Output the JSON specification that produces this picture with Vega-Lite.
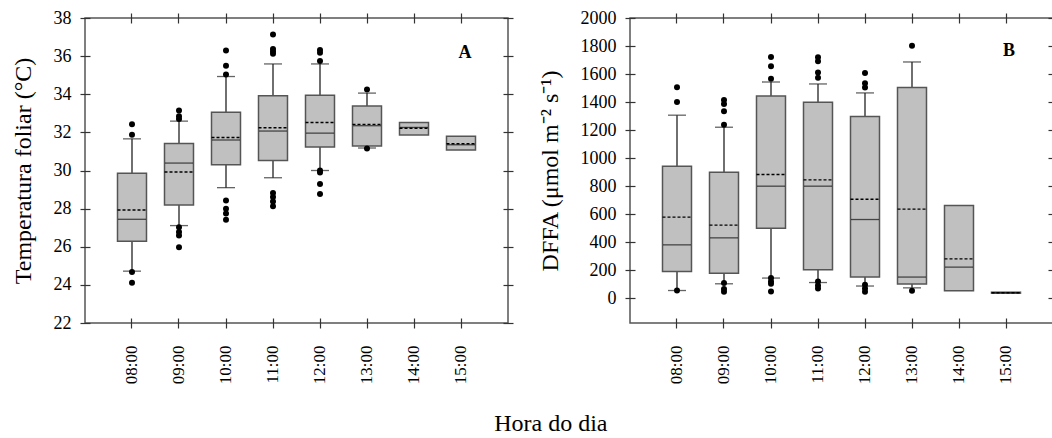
{
  "$schema": "https://vega.github.io/schema/vega-lite/v6.json",
  "padding": {"left": 10, "top": 8, "right": 0, "bottom": 0},
  "spacing": 22,
  "title": {"text": "Hora do dia", "orient": "bottom", "anchor": "middle", "font": "Liberation Serif", "fontSize": 24, "fontWeight": "normal", "color": "#000", "offset": 28, "dx": 16},
  "datasets": {
    "boxA": [
      {"hora": "08:00", "q1": 26.29, "q3": 29.85, "med": 27.44, "mean": 27.93, "lo": 24.72, "hi": 31.66},
      {"hora": "09:00", "q1": 28.19, "q3": 31.42, "med": 30.39, "mean": 29.92, "lo": 27.11, "hi": 32.59},
      {"hora": "10:00", "q1": 30.30, "q3": 33.06, "med": 31.60, "mean": 31.73, "lo": 29.10, "hi": 34.93},
      {"hora": "11:00", "q1": 30.53, "q3": 33.92, "med": 32.07, "mean": 32.24, "lo": 29.62, "hi": 35.59},
      {"hora": "12:00", "q1": 31.23, "q3": 33.95, "med": 31.96, "mean": 32.52, "lo": 30.00, "hi": 35.59},
      {"hora": "13:00", "q1": 31.28, "q3": 33.38, "med": 32.35, "mean": 32.42, "lo": 31.18, "hi": 34.06},
      {"hora": "14:00", "q1": 31.86, "q3": 32.52, "med": 32.26, "mean": 32.22, "lo": null, "hi": null},
      {"hora": "15:00", "q1": 31.07, "q3": 31.80, "med": 31.35, "mean": 31.40, "lo": null, "hi": null}
    ],
    "outA": [
      {"hora": "08:00", "v": 32.43}, {"hora": "08:00", "v": 31.87}, {"hora": "08:00", "v": 24.67}, {"hora": "08:00", "v": 24.11},
      {"hora": "09:00", "v": 33.15}, {"hora": "09:00", "v": 32.85}, {"hora": "09:00", "v": 32.70}, {"hora": "09:00", "v": 27.02}, {"hora": "09:00", "v": 26.78}, {"hora": "09:00", "v": 26.59}, {"hora": "09:00", "v": 25.97},
      {"hora": "10:00", "v": 36.29}, {"hora": "10:00", "v": 35.50}, {"hora": "10:00", "v": 35.03}, {"hora": "10:00", "v": 28.42}, {"hora": "10:00", "v": 28.00}, {"hora": "10:00", "v": 27.75}, {"hora": "10:00", "v": 27.41},
      {"hora": "11:00", "v": 37.13}, {"hora": "11:00", "v": 36.38}, {"hora": "11:00", "v": 36.24}, {"hora": "11:00", "v": 36.12}, {"hora": "11:00", "v": 28.82}, {"hora": "11:00", "v": 28.61}, {"hora": "11:00", "v": 28.37}, {"hora": "11:00", "v": 28.12},
      {"hora": "12:00", "v": 36.32}, {"hora": "12:00", "v": 36.18}, {"hora": "12:00", "v": 35.75}, {"hora": "12:00", "v": 30.00}, {"hora": "12:00", "v": 29.90}, {"hora": "12:00", "v": 29.29}, {"hora": "12:00", "v": 28.77},
      {"hora": "13:00", "v": 34.25}, {"hora": "13:00", "v": 31.16}
    ],
    "boxB": [
      {"hora": "08:00", "q1": 190, "q3": 942, "med": 380, "mean": 578, "lo": 54, "hi": 1306},
      {"hora": "09:00", "q1": 178, "q3": 899, "med": 430, "mean": 521, "lo": 102, "hi": 1220},
      {"hora": "10:00", "q1": 499, "q3": 1443, "med": 799, "mean": 882, "lo": 143, "hi": 1543},
      {"hora": "11:00", "q1": 202, "q3": 1398, "med": 799, "mean": 844, "lo": 111, "hi": 1529},
      {"hora": "12:00", "q1": 150, "q3": 1296, "med": 561, "mean": 706, "lo": 86, "hi": 1465},
      {"hora": "13:00", "q1": 100, "q3": 1503, "med": 150, "mean": 635, "lo": 73, "hi": 1686},
      {"hora": "14:00", "q1": 52, "q3": 661, "med": 221, "mean": 280, "lo": null, "hi": null},
      {"hora": "15:00", "q1": 35, "q3": 42, "med": 38, "mean": 38, "lo": null, "hi": null}
    ],
    "outB": [
      {"hora": "08:00", "v": 1505}, {"hora": "08:00", "v": 1401}, {"hora": "08:00", "v": 54},
      {"hora": "09:00", "v": 1415}, {"hora": "09:00", "v": 1386}, {"hora": "09:00", "v": 1334}, {"hora": "09:00", "v": 1237}, {"hora": "09:00", "v": 107}, {"hora": "09:00", "v": 64}, {"hora": "09:00", "v": 45},
      {"hora": "10:00", "v": 1722}, {"hora": "10:00", "v": 1655}, {"hora": "10:00", "v": 1567}, {"hora": "10:00", "v": 143}, {"hora": "10:00", "v": 119}, {"hora": "10:00", "v": 102}, {"hora": "10:00", "v": 47},
      {"hora": "11:00", "v": 1719}, {"hora": "11:00", "v": 1691}, {"hora": "11:00", "v": 1610}, {"hora": "11:00", "v": 1574}, {"hora": "11:00", "v": 119}, {"hora": "11:00", "v": 90}, {"hora": "11:00", "v": 69},
      {"hora": "12:00", "v": 1608}, {"hora": "12:00", "v": 1534}, {"hora": "12:00", "v": 1503}, {"hora": "12:00", "v": 95}, {"hora": "12:00", "v": 69}, {"hora": "12:00", "v": 45},
      {"hora": "13:00", "v": 1802}, {"hora": "13:00", "v": 52}
    ]
  },
  "hconcat": [
    {
      "width": 423, "height": 305,
      "resolve": {"axis": {"x": "independent", "y": "independent"}},
      "layer": [
        {"data": {"name": "boxA"}, "mark": {"type": "rule", "color": "#222", "strokeWidth": 1.3},
         "encoding": {
           "x": {"field": "hora", "type": "nominal", "scale": {"type": "band", "domain": ["08:00","09:00","10:00","11:00","12:00","13:00","14:00","15:00"], "paddingInner": 0.383, "paddingOuter": 0.6915},
                 "axis": {"orient": "bottom", "title": null, "labelAngle": -90, "labelPadding": 17, "labelFont": "Liberation Serif", "labelFontSize": 17, "tickSize": 10, "offset": -5, "domain": false}},
           "y": {"field": "lo", "type": "quantitative", "scale": {"domain": [22, 38], "nice": false, "zero": false},
                 "axis": {"orient": "left", "values": [22,24,26,28,30,32,34,36,38], "format": "d", "title": "Temperatura foliar (°C)", "labelFont": "Liberation Serif", "labelFontSize": 18, "titleFont": "Liberation Serif", "labelPadding": 9, "titlePadding": 18, "tickSize": 10, "offset": -5, "domain": false}},
           "y2": {"field": "hi"}}},
        {"data": {"name": "boxA"}, "mark": {"type": "tick", "color": "#222", "size": 18, "thickness": 1.3},
         "encoding": {"x": {"field": "hora", "type": "nominal", "axis": null}, "y": {"field": "lo", "type": "quantitative", "axis": null}}},
        {"data": {"name": "boxA"}, "mark": {"type": "tick", "color": "#222", "size": 18, "thickness": 1.3},
         "encoding": {"x": {"field": "hora", "type": "nominal", "axis": null}, "y": {"field": "hi", "type": "quantitative", "axis": null}}},
        {"data": {"name": "boxA"}, "mark": {"type": "bar", "fill": "#c0c0c0", "stroke": "#555", "strokeWidth": 1.5},
         "encoding": {"x": {"field": "hora", "type": "nominal", "axis": null}, "y": {"field": "q1", "type": "quantitative", "axis": null}, "y2": {"field": "q3"}}},
        {"data": {"name": "boxA"}, "mark": {"type": "tick", "color": "#111", "size": 28, "thickness": 1.3},
         "encoding": {"x": {"field": "hora", "type": "nominal", "axis": null}, "y": {"field": "med", "type": "quantitative", "axis": null}}},
        {"data": {"name": "boxA"}, "mark": {"type": "bar", "fillOpacity": 0, "stroke": "#000", "strokeWidth": 1.4, "strokeDash": [3, 2]},
         "encoding": {"x": {"field": "hora", "type": "nominal", "axis": null}, "y": {"field": "mean", "type": "quantitative", "axis": null}, "y2": {"field": "mean"}}},
        {"data": {"name": "outA"}, "mark": {"type": "point", "filled": true, "color": "#000", "size": 36, "opacity": 1},
         "encoding": {
           "x": {"field": "hora", "type": "nominal", "axis": {"orient": "top", "labels": false, "title": null, "tickSize": 10, "offset": -5, "domain": false}},
           "y": {"field": "v", "type": "quantitative", "axis": {"orient": "right", "labels": false, "title": null, "values": [22,24,26,28,30,32,34,36,38], "tickSize": 10, "offset": -5, "domain": false}}}},
        {"data": {"values": [{"t": "A"}]}, "mark": {"type": "text", "font": "Liberation Serif", "fontWeight": "bold", "fontSize": 18, "color": "#000", "dx": 4, "baseline": "middle"},
         "encoding": {"x": {"datum": "15:00", "type": "nominal", "axis": null}, "y": {"datum": 36.15, "type": "quantitative", "axis": null}, "text": {"field": "t"}}}
      ]
    },
    {
      "width": 423, "height": 305,
      "resolve": {"axis": {"x": "independent", "y": "independent"}},
      "layer": [
        {"data": {"name": "boxB"}, "mark": {"type": "rule", "color": "#222", "strokeWidth": 1.3},
         "encoding": {
           "x": {"field": "hora", "type": "nominal", "scale": {"type": "band", "domain": ["08:00","09:00","10:00","11:00","12:00","13:00","14:00","15:00"], "paddingInner": 0.383, "paddingOuter": 0.6915},
                 "axis": {"orient": "bottom", "title": null, "labelAngle": -90, "labelPadding": 17, "labelFont": "Liberation Serif", "labelFontSize": 17, "tickSize": 10, "offset": -5, "domain": false}},
           "y": {"field": "lo", "type": "quantitative", "scale": {"domain": [-178, 2000], "nice": false, "zero": false},
                 "axis": {"orient": "left", "values": [0,200,400,600,800,1000,1200,1400,1600,1800,2000], "format": "d", "title": "DFFA (μmol m⁻² s⁻¹)", "labelFont": "Liberation Serif", "labelFontSize": 18, "titleFont": "Liberation Serif", "labelPadding": 9, "titlePadding": 18, "tickSize": 10, "offset": -5, "domain": false}},
           "y2": {"field": "hi"}}},
        {"data": {"name": "boxB"}, "mark": {"type": "tick", "color": "#222", "size": 18, "thickness": 1.3},
         "encoding": {"x": {"field": "hora", "type": "nominal", "axis": null}, "y": {"field": "lo", "type": "quantitative", "axis": null}}},
        {"data": {"name": "boxB"}, "mark": {"type": "tick", "color": "#222", "size": 18, "thickness": 1.3},
         "encoding": {"x": {"field": "hora", "type": "nominal", "axis": null}, "y": {"field": "hi", "type": "quantitative", "axis": null}}},
        {"data": {"name": "boxB"}, "mark": {"type": "bar", "fill": "#c0c0c0", "stroke": "#555", "strokeWidth": 1.5},
         "encoding": {"x": {"field": "hora", "type": "nominal", "axis": null}, "y": {"field": "q1", "type": "quantitative", "axis": null}, "y2": {"field": "q3"}}},
        {"data": {"name": "boxB"}, "mark": {"type": "tick", "color": "#111", "size": 28, "thickness": 1.3},
         "encoding": {"x": {"field": "hora", "type": "nominal", "axis": null}, "y": {"field": "med", "type": "quantitative", "axis": null}}},
        {"data": {"name": "boxB"}, "mark": {"type": "bar", "fillOpacity": 0, "stroke": "#000", "strokeWidth": 1.4, "strokeDash": [3, 2]},
         "encoding": {"x": {"field": "hora", "type": "nominal", "axis": null}, "y": {"field": "mean", "type": "quantitative", "axis": null}, "y2": {"field": "mean"}}},
        {"data": {"name": "outB"}, "mark": {"type": "point", "filled": true, "color": "#000", "size": 36, "opacity": 1},
         "encoding": {
           "x": {"field": "hora", "type": "nominal", "axis": {"orient": "top", "labels": false, "title": null, "tickSize": 10, "offset": -5, "domain": false}},
           "y": {"field": "v", "type": "quantitative", "axis": {"orient": "right", "labels": false, "title": null, "values": [0,200,400,600,800,1000,1200,1400,1600,1800,2000], "tickSize": 10, "offset": -5, "domain": false}}}},
        {"data": {"values": [{"t": "B"}]}, "mark": {"type": "text", "font": "Liberation Serif", "fontWeight": "bold", "fontSize": 18, "color": "#000", "dx": 3, "baseline": "middle"},
         "encoding": {"x": {"datum": "15:00", "type": "nominal", "axis": null}, "y": {"datum": 1761, "type": "quantitative", "axis": null}, "text": {"field": "t"}}}
      ]
    }
  ],
  "config": {
    "font": "Liberation Serif",
    "view": {"stroke": "#555", "strokeWidth": 1.5},
    "axis": {"grid": false, "labelFont": "Liberation Serif", "titleFont": "Liberation Serif", "labelFontSize": 18, "titleFontSize": 24, "titleFontWeight": "normal", "labelColor": "#000", "titleColor": "#000", "tickColor": "#333", "tickWidth": 1.2}
  }
}
